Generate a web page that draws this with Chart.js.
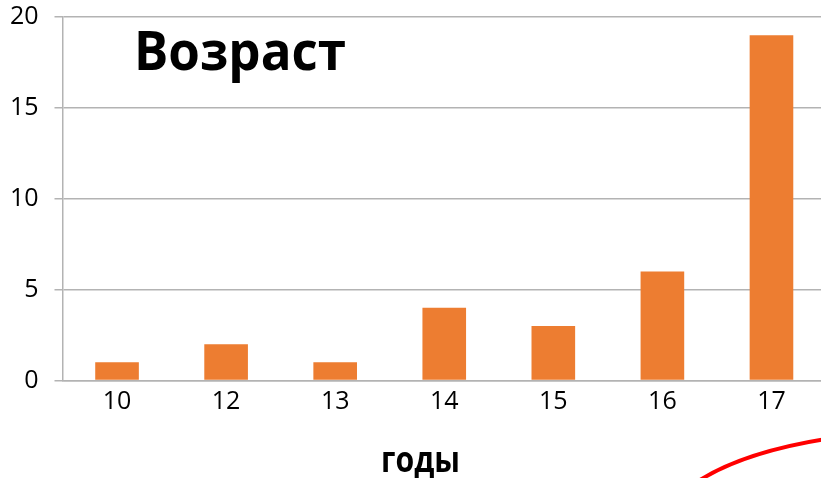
<!DOCTYPE html>
<html>
<head>
<meta charset="utf-8">
<script src="https://cdn.jsdelivr.net/npm/chart.js@4/dist/chart.umd.min.js"></script>
<style>
  html, body { margin: 0; padding: 0; background: #fff; overflow: hidden; }
  #wrap { position: relative; width: 826px; height: 478px; }
</style>
</head>
<body>
<div id="wrap"><canvas id="c"></canvas></div>
<script>
const categories = ['10', '12', '13', '14', '15', '16', '17'];
const values = [1, 2, 1, 4, 3, 6, 19];
const yTicks = [0, 5, 10, 15, 20];
const chartTitle = 'Возраст';
const xTitle = 'годы';

const FONT = '"Open Sans", "Noto Sans", "DejaVu Sans", sans-serif';

function fitText(ctx, text, x, baseline, font, targetWidth) {
  ctx.save();
  ctx.font = font;
  const w = ctx.measureText(text).width;
  const s = targetWidth / w;
  ctx.translate(x, baseline);
  ctx.scale(s, 1);
  ctx.fillStyle = '#000';
  ctx.textBaseline = 'alphabetic';
  ctx.textAlign = 'left';
  ctx.fillText(text, 0, 0);
  ctx.restore();
}

const decor = {
  id: 'decor',
  afterDraw(chart) {
    const ctx = chart.ctx;
    fitText(ctx, chartTitle, 134, 70, 'bold 53px ' + FONT, 212);
    fitText(ctx, xTitle, 381, 472, 'bold 35px ' + FONT, 79);
    ctx.save();
    ctx.strokeStyle = '#ff0000';
    ctx.lineWidth = 4;
    ctx.lineCap = 'round';
    ctx.beginPath();
    ctx.moveTo(700, 480);
    ctx.quadraticCurveTo(745, 452, 826, 439);
    ctx.stroke();
    ctx.restore();
  }
};

new Chart(document.getElementById('c'), {
  type: 'bar',
  data: {
    labels: categories,
    datasets: [{
      data: values,
      backgroundColor: '#ED7D31',
      borderWidth: 0,
      barPercentage: 0.4,
      categoryPercentage: 1.0
    }]
  },
  options: {
    responsive: true,
    maintainAspectRatio: false,
    animation: false,
    devicePixelRatio: 1,
    layout: { padding: { top: 17, right: 0, left: 0, bottom: 0 } },
    plugins: {
      legend: { display: false },
      title: { display: false },
      tooltip: { enabled: false }
    },
    scales: {
      x: {
        grid: { display: false, drawTicks: false },
        border: { display: true, color: '#b3b3b3', width: 1.5 },
        ticks: { color: '#000', font: { family: FONT, size: 25 }, padding: 6, maxRotation: 0 },
        afterFit(scale) { scale.height = 97.5; }
      },
      y: {
        min: 0, max: 20,
        afterBuildTicks(scale) { scale.ticks = yTicks.map(v => ({ value: v })); },
        grid: { color: '#b3b3b3', lineWidth: 1.5, tickLength: 8, drawTicks: true },
        border: { display: true, color: '#b3b3b3', width: 1.5 },
        ticks: { color: '#000', font: { family: FONT, size: 25 }, padding: 16 },
        afterFit(scale) { scale.width = 62.5; scale.paddingTop = 0; scale.paddingBottom = 0; }
      }
    }
  },
  plugins: [decor]
});
</script>
</body>
</html>
